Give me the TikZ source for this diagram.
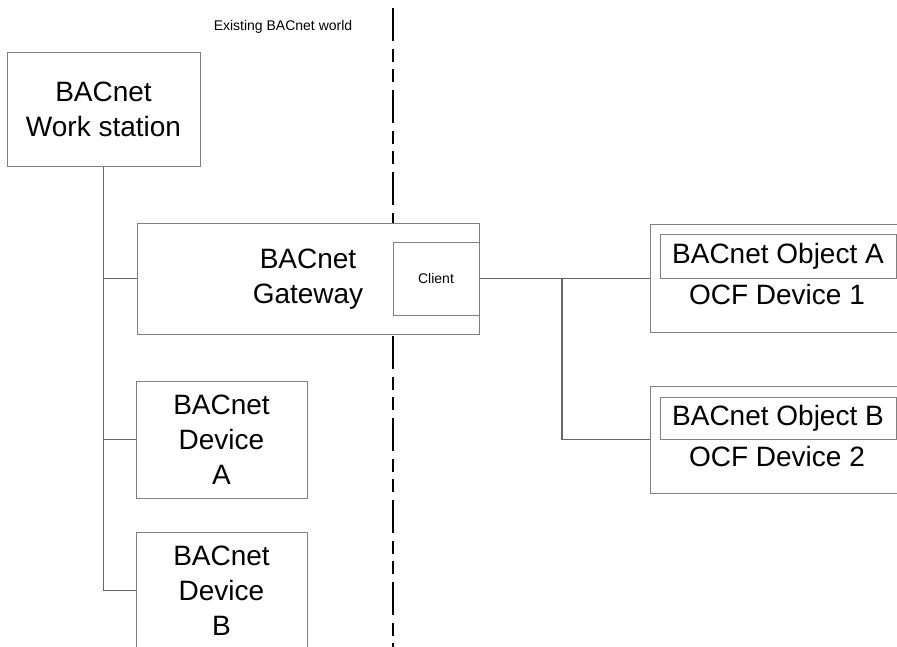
\documentclass[tikz,border=0pt]{standalone}
\usepackage{fontspec}
\setmainfont{Liberation Sans}
\begin{document}
\begin{tikzpicture}[x=1pt,y=-1pt,
  box/.style={draw=black!50,line width=1pt,fill=white,rectangle,inner sep=0pt,align=center,
    font=\fontsize{28}{35}\selectfont},
  smalltext/.style={font=\fontsize{14}{17}\selectfont,inner sep=0pt},
  bigtext/.style={font=\fontsize{28}{35}\selectfont,inner sep=0pt},
  conn/.style={draw=black!60,line width=1.2pt},
  dashline/.style={draw=black,line width=1.6pt,dash pattern=on 33pt off 8pt on 13pt off 7pt on 13pt off 8pt}]
\clip (0,0) rectangle (897,646);
\fill[white] (0,0) rectangle (897,646);
% dashed boundary
\coordinate (dtop) at (393,8);
\coordinate (dbot) at (393,660);
\draw[dashline] (dtop) -- (dbot);
\node[smalltext] (world) at (283,27) {Existing BACnet world};
% boxes
\node[box,minimum width=193pt,minimum height=114pt] (ws) at (103.5,109.5) {BACnet\\Work station};
\node[box,minimum width=342pt,minimum height=111pt] (gw) at (308,278.5) {};
\node[bigtext,align=center] (gwt) at (308,279.5) {BACnet\\Gateway};
\node[box,minimum width=86pt,minimum height=73pt,font=\fontsize{14}{17}\selectfont] (client) at (436,278.5) {Client};
\node[box,minimum width=171pt,minimum height=117pt] (devA) at (221.5,439.5) {BACnet\\Device\\A};
\node[box,minimum width=171pt,minimum height=117pt] (devB) at (221.5,590.5) {BACnet\\Device\\B};
\node[box,minimum width=300pt,minimum height=108pt] (ocf1) at (800,278.5) {};
\node[box,minimum width=236pt,minimum height=44pt] (objA) at (778,256) {BACnet Object A};
\node[bigtext] (ocf1t) at (777,294) {OCF Device 1};
\node[box,minimum width=300pt,minimum height=107pt] (ocf2) at (800,439.5) {};
\node[box,minimum width=236pt,minimum height=42pt] (objB) at (778,418) {BACnet Object B};
\node[bigtext] (ocf2t) at (777,456) {OCF Device 2};
% connectors
\draw[conn] (ws.south) |- (devB.west);
\draw[conn] (ws.south |- gw.west) -- (gw.west);
\draw[conn] (ws.south |- devA.west) -- (devA.west);
\draw[conn] (client.east) -- (ocf1.west);
\coordinate (br) at (562,278.5);
\draw[conn] (br) |- (ocf2.west);
\end{tikzpicture}
\end{document}
